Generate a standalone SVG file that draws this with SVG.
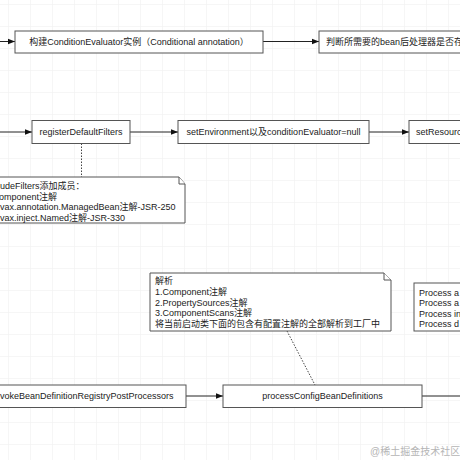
<svg xmlns="http://www.w3.org/2000/svg" width="460" height="460" viewBox="0 0 460 460">
<style>
text{font-family:"Liberation Sans","Noto Sans CJK SC",sans-serif;font-size:9px;fill:#222}
.box{fill:#fff;stroke:#555;stroke-width:1}
.note{fill:#fff;stroke:#555;stroke-width:1}
.edge{fill:none;stroke:#222;stroke-width:1}
.dot{fill:none;stroke:#444;stroke-width:1;stroke-dasharray:1.5 1.5}
.mid{text-anchor:middle}
</style>
<defs>
<pattern id="grid" x="8" y="4" width="22" height="22" patternUnits="userSpaceOnUse">
<path d="M0 0H22M0 0V22" fill="none" stroke="#eeeeee" stroke-width="1"/>
</pattern>
<marker id="arr" viewBox="0 0 10 10" refX="10" refY="5" markerWidth="7" markerHeight="7" orient="auto" markerUnits="userSpaceOnUse">
<path d="M0 1L10 5L0 9Z" fill="#111"/>
</marker>
</defs>
<rect width="460" height="460" fill="#fff"/>
<rect width="460" height="460" fill="url(#grid)"/>

<g id="connectors">
<line class="edge" x1="0" y1="41.5" x2="15" y2="41.5" marker-end="url(#arr)"/>
<line class="edge" x1="263" y1="41.5" x2="319" y2="41.5" marker-end="url(#arr)"/>
<line class="edge" x1="0" y1="132" x2="32" y2="132" marker-end="url(#arr)"/>
<line class="edge" x1="130" y1="132" x2="178" y2="132" marker-end="url(#arr)"/>
<line class="edge" x1="369" y1="132" x2="409" y2="132" marker-end="url(#arr)"/>
<line class="edge" x1="186" y1="396" x2="223" y2="396" marker-end="url(#arr)"/>
<line class="edge" x1="422" y1="396" x2="460" y2="396"/>
<line class="dot" x1="81.5" y1="143.5" x2="81.5" y2="177"/>
<line class="dot" x1="287" y1="331" x2="315" y2="385"/>
</g>

<g id="n1">
<rect class="box" x="15" y="31" width="248" height="22"/>
<text class="mid" x="139" y="45">构建ConditionEvaluator实例（Conditional annotation）</text>
</g>
<g id="n2">
<rect class="box" x="319" y="31" width="160" height="22"/>
<text x="326" y="45">判断所需要的bean后处理器是否存</text>
</g>
<g id="n3">
<rect class="box" x="32" y="120.5" width="98" height="23"/>
<text class="mid" x="81" y="135">registerDefaultFilters</text>
</g>
<g id="n4">
<rect class="box" x="178" y="120.5" width="191" height="23"/>
<text class="mid" x="273.5" y="135">setEnvironment以及conditionEvaluator=null</text>
</g>
<g id="n5">
<rect class="box" x="409" y="120.5" width="70" height="23"/>
<text x="416" y="135">setResourc</text>
</g>
<g id="note1">
<path class="note" d="M-2 177H179L185 184V223H-2Z"/>
<path class="note" d="M179 177V184H185" fill="none"/>
<text x="0" y="189">udeFilters添加成员：</text>
<text x="-1" y="199.5">omponent注解</text>
<text x="0" y="210">vax.annotation.ManagedBean注解-JSR-250</text>
<text x="0" y="220.5">vax.inject.Named注解-JSR-330</text>
</g>
<g id="note2">
<path class="note" d="M150 273H384L391 280V331H150Z"/>
<path class="note" d="M384 273V280H391" fill="none"/>
<text x="155" y="284">解析</text>
<text x="155" y="295">1.Component注解</text>
<text x="155" y="305.5">2.PropertySources注解</text>
<text x="155" y="316">3.ComponentScans注解</text>
<text x="155" y="326.5">将当前启动类下面的包含有配置注解的全部解析到工厂中</text>
</g>
<g id="note3">
<rect class="box" x="414" y="283" width="60" height="48"/>
<text x="419" y="296">Process a</text>
<text x="419" y="306">Process a</text>
<text x="419" y="316.5">Process in</text>
<text x="419" y="326.5">Process d</text>
</g>
<g id="n6">
<rect class="box" x="-5" y="385" width="191" height="22.5"/>
<text x="0" y="399">vokeBeanDefinitionRegistryPostProcessors</text>
</g>
<g id="n7">
<rect class="box" x="223" y="385" width="199" height="22.5"/>
<text class="mid" x="322.5" y="399">processConfigBeanDefinitions</text>
</g>
<text x="370" y="455" style="font-size:10px;fill:#b5b5b5">@稀土掘金技术社区</text>
</svg>
